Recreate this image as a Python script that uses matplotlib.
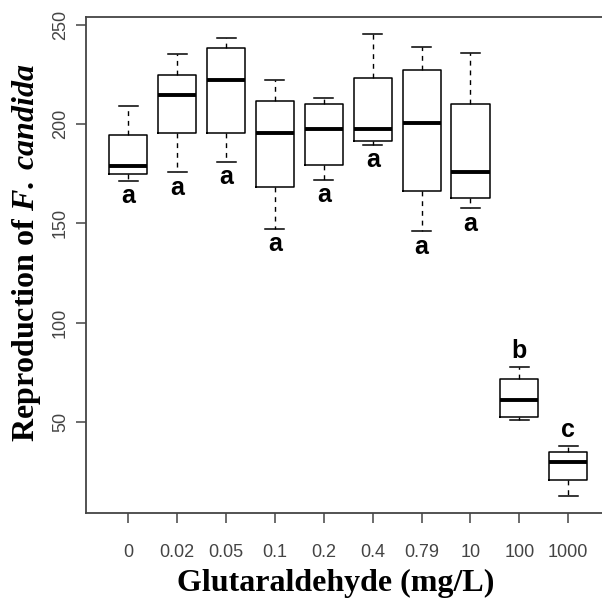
import matplotlib
matplotlib.use("Agg")
import matplotlib.pyplot as plt

# concentrations (mg/L) and box statistics
concs = ["0", "0.02", "0.05", "0.1", "0.2", "0.4", "0.79", "10", "100", "1000"]
whislo = [171.6, 176.0, 181.2, 147.4, 172.1, 189.8, 146.2, 157.9, 50.8, 12.7]
q1 = [175.0, 195.8, 195.8, 168.4, 179.5, 191.7, 166.3, 162.9, 52.4, 20.3]
med = [178.8, 214.6, 222.5, 195.8, 197.8, 197.6, 200.8, 176.0, 60.9, 29.4]
q3 = [194.4, 224.9, 238.6, 211.8, 210.5, 223.5, 227.6, 210.5, 71.7, 34.5]
whishi = [209.3, 235.4, 243.7, 222.3, 213.2, 245.8, 239.2, 236.0, 77.7, 37.9]
letters = ["a", "a", "a", "a", "a", "a", "a", "a", "b", "c"]

plt.rcParams["mathtext.fontset"] = "custom"
plt.rcParams["mathtext.rm"] = "Liberation Serif:bold"
plt.rcParams["mathtext.it"] = "Liberation Serif:italic:bold"

fig = plt.figure(figsize=(6.02, 6.03), dpi=100)
ax = fig.add_axes([86 / 602, 90 / 603, 516 / 602, 496.3 / 603])

stats = []
for i in range(len(concs)):
    stats.append({"whislo": whislo[i], "q1": q1[i], "med": med[i],
                  "q3": q3[i], "whishi": whishi[i], "fliers": []})

pos = list(range(1, len(concs) + 1))
ax.bxp(stats, positions=pos, widths=0.78, capwidths=0.39, showfliers=False,
       boxprops=dict(color="black", linewidth=1.1),
       medianprops=dict(color="black", linewidth=2.8, solid_capstyle="butt"),
       whiskerprops=dict(color="black", linewidth=1.0, linestyle=(0, (3.5, 3.5))),
       capprops=dict(color="black", linewidth=1.1))

# significance letters: below lower whisker for "a", above upper whisker otherwise
for i, lab in enumerate(letters):
    if lab == "a":
        y = whislo[i] - 8
    else:
        y = whishi[i] + 8
    ax.text(pos[i], y, lab, ha="center", va="center", fontsize=18,
            fontweight="bold", family="Liberation Sans")

ax.set_xlim(0.135, 10.69)
ax.set_ylim(3.9, 254.3)
ax.set_yticks([50, 100, 150, 200, 250])
ax.set_xticks(pos)
ax.set_xticklabels(concs)

for s in ["top", "left", "bottom"]:
    ax.spines[s].set_color("#444444")
    ax.spines[s].set_linewidth(1.3)
ax.spines["right"].set_visible(False)

tick_font = ["Liberation Sans Narrow", "Liberation Sans"]
ax.tick_params(axis="both", direction="out", length=7.2, width=1.1,
               color="#444444", labelcolor="#444444", labelsize=13)
ax.tick_params(axis="x", pad=15)
ax.tick_params(axis="y", pad=5)
for t in ax.get_xticklabels():
    t.set_family(tick_font)
for t in ax.get_yticklabels():
    t.set_family(tick_font)
    t.set_rotation(90)
    t.set_va("center")

ax.text(0.4835, -0.157, "Glutaraldehyde (mg/L)", transform=ax.transAxes,
        ha="center", va="baseline", fontsize=23, fontweight="bold",
        family="Liberation Serif")
ax.text(-0.116, 0.525, r"Reproduction of $\mathit{F.\;candida}$",
        transform=ax.transAxes, ha="center", va="center", rotation=90,
        fontsize=23, fontweight="bold", family="Liberation Serif")

fig.savefig("out.png", dpi=100)
